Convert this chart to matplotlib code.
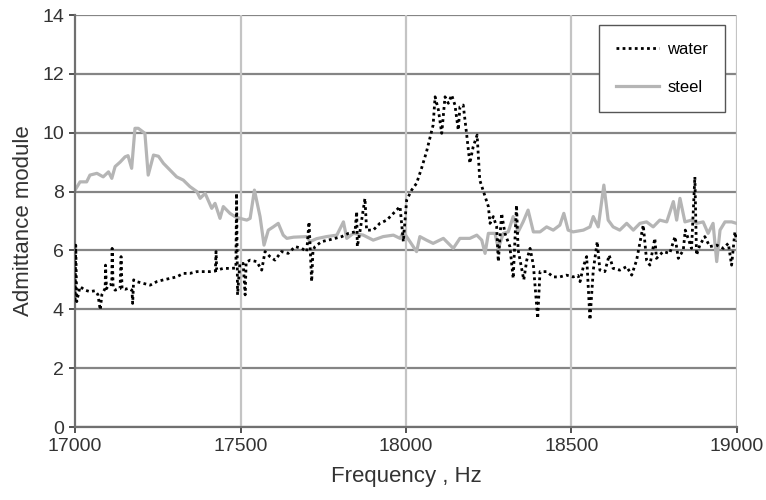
import numpy as np
import matplotlib.pyplot as plt

plt.rcParams['font.family'] = ['Liberation Sans', 'DejaVu Sans']

# water (dotted black) - frequency in Hz, admittance module
water_f = [17000, 17002, 17005, 17015, 17030, 17045, 17060, 17069, 17076, 17081,
           17091, 17092, 17095, 17101, 17111, 17112, 17115, 17121, 17136, 17139,
           17142, 17151, 17161, 17172, 17174, 17177, 17186, 17206, 17227, 17247,
           17267, 17287, 17307, 17327, 17347, 17368, 17388, 17408, 17424, 17426,
           17428, 17448, 17468, 17486, 17488, 17491, 17498, 17508, 17514, 17517,
           17529, 17549, 17564, 17574, 17589, 17604, 17624, 17644, 17665, 17685,
           17700, 17707, 17715, 17719, 17725, 17745, 17765, 17785, 17806, 17826,
           17846, 17851, 17853, 17861, 17876, 17881, 17901, 17921, 17942, 17962,
           17982, 17992, 18002, 18017, 18032, 18047, 18062, 18072, 18082, 18088,
           18098, 18108, 18118, 18128, 18138, 18148, 18158, 18163, 18173, 18183,
           18193, 18203, 18215, 18223, 18239, 18249, 18254, 18264, 18274, 18279,
           18289, 18299, 18314, 18324, 18334, 18339, 18356, 18365, 18375, 18385,
           18398, 18405, 18425, 18445, 18465, 18485, 18505, 18520, 18526, 18536,
           18546, 18556, 18566, 18578, 18586, 18601, 18614, 18626, 18646, 18667,
           18682, 18697, 18717, 18727, 18737, 18752, 18757, 18777, 18797, 18813,
           18823, 18838, 18844, 18863, 18873, 18878, 18888, 18903, 18918, 18939,
           18959, 18974, 18984, 18994, 19000]
water_y = [4.3, 6.18, 4.26, 4.77, 4.65, 4.6, 4.63, 4.5, 3.98, 4.5,
           4.71, 5.5, 4.7, 4.82, 4.85, 6.07, 4.75, 4.65, 4.7, 5.79,
           4.7, 4.68, 4.71, 4.65, 4.2, 5.0, 4.94, 4.88, 4.82, 4.94,
           5.0, 5.05, 5.1, 5.22, 5.22, 5.28, 5.28, 5.28, 5.3, 5.96,
           5.33, 5.39, 5.39, 5.4, 7.94, 4.49, 5.56, 5.56, 4.49, 5.6,
           5.67, 5.62, 5.33, 5.96, 5.79, 5.67, 5.96, 5.9, 6.13, 6.07,
           5.96, 6.97, 4.94, 6.0, 6.13, 6.3, 6.35, 6.41, 6.47, 6.58,
           6.63, 7.32, 6.13, 6.65, 7.77, 6.69, 6.69, 6.92, 7.03, 7.26,
           7.49, 6.3, 7.71, 8.05, 8.28, 8.79, 9.35, 9.81, 10.26, 11.22,
           10.77, 9.98, 11.22, 11.0, 11.28, 10.94, 10.09, 10.88, 10.94, 9.98,
           8.96, 9.52, 9.92, 8.39, 7.83, 7.49, 6.92, 7.15, 6.8, 5.62,
           7.26, 6.58, 6.13, 5.05, 7.54, 6.01, 5.0, 5.67, 6.07, 5.5,
           3.69, 5.28, 5.28, 5.1, 5.1, 5.16, 5.1, 5.15, 4.94, 5.45,
           5.79, 3.64, 5.33, 6.3, 5.33, 5.28, 5.84, 5.39, 5.33, 5.45,
           5.16, 5.67, 6.86, 5.67, 5.5, 6.41, 5.73, 5.96, 5.9, 6.47,
           5.73, 6.01, 6.69, 6.07, 8.5, 5.84, 6.18, 6.47, 6.13, 6.18,
           6.07, 6.24, 5.5, 6.63, 6.3]

# steel (solid grey)
steel_f = [17000, 17015, 17035, 17045, 17066, 17085, 17101, 17111, 17121, 17136,
           17151, 17160, 17171, 17181, 17191, 17211, 17221, 17237, 17252, 17267,
           17287, 17307, 17327, 17347, 17368, 17378, 17393, 17413, 17423, 17438,
           17448, 17468, 17483, 17498, 17519, 17529, 17542, 17559, 17571, 17584,
           17599, 17614, 17629, 17640, 17660, 17700, 17710, 17730, 17760, 17791,
           17811, 17821, 17841, 17871, 17901, 17931, 17962, 17982, 17992, 18012,
           18032, 18042, 18062, 18082, 18113, 18143, 18163, 18193, 18214, 18229,
           18239, 18249, 18269, 18279, 18294, 18309, 18324, 18339, 18354, 18369,
           18385, 18405, 18425, 18445, 18465, 18477, 18490, 18505, 18536, 18556,
           18566, 18581, 18598, 18611, 18626, 18646, 18667, 18687, 18707, 18727,
           18747, 18767, 18788, 18808, 18818, 18828, 18843, 18863, 18878, 18898,
           18913, 18928, 18939, 18949, 18964, 18984, 18999]
steel_y = [8.05, 8.33, 8.33, 8.56, 8.62, 8.5, 8.67, 8.45, 8.85, 9.0,
           9.18, 9.22, 8.79, 10.15, 10.15, 9.98, 8.56, 9.24, 9.2, 8.96,
           8.73, 8.5, 8.39, 8.17, 8.0, 7.77, 7.94, 7.43, 7.6, 7.09,
           7.49, 7.26, 7.15, 7.09, 7.03, 7.09, 8.05, 7.15, 6.18, 6.69,
           6.8, 6.92, 6.52, 6.41, 6.45, 6.47, 6.3, 6.4, 6.47, 6.52,
           6.97, 6.41, 6.58, 6.52, 6.35, 6.47, 6.52, 6.41, 6.63, 6.3,
           5.96, 6.47, 6.35, 6.24, 6.41, 6.07, 6.41, 6.41, 6.52, 6.35,
           5.9, 6.58, 6.58, 6.07, 6.58, 6.63, 7.15, 6.63, 6.97, 7.37,
           6.63, 6.63, 6.8, 6.69, 6.86, 7.26, 6.69, 6.63, 6.69, 6.8,
           7.15, 6.8, 8.22, 7.03, 6.8, 6.69, 6.92, 6.69, 6.92, 6.97,
           6.8, 7.03, 6.97, 7.66, 7.03, 7.77, 6.97, 7.03, 6.92, 6.97,
           6.58, 6.92, 5.62, 6.69, 6.97, 6.97, 6.92]

x_ticks = [17000, 17500, 18000, 18500, 19000]
y_ticks = [0, 2, 4, 6, 8, 10, 12, 14]

fig = plt.figure(figsize=(7.66, 5), dpi=100)
ax = fig.add_axes([0.098, 0.146, 0.864, 0.824])

for yv in y_ticks:
    ax.axhline(yv, color='#858585', lw=1.6, zorder=1)
for xv in x_ticks[1:]:
    ax.axvline(xv, color='#c4c4c4', lw=1.6, zorder=1)

ax.plot(steel_f, steel_y, color='#b5b5b5', lw=2.3, label='steel', zorder=2)
ax.plot(water_f, water_y, color='black', lw=2.0, ls=(0, (1, 1.2)), label='water', zorder=3)

ax.set_xlim(17000, 19000)
ax.set_ylim(0, 14)
ax.set_xticks(x_ticks)
ax.set_yticks(y_ticks)
ax.tick_params(labelsize=14, colors='#333333', length=4, width=1.2, pad=4)
for s in ['top', 'right']:
    ax.spines[s].set_visible(False)
ax.spines['left'].set_color('#707070')
ax.spines['left'].set_linewidth(1.6)
ax.spines['bottom'].set_color('#707070')
ax.spines['bottom'].set_linewidth(1.6)

ax.set_xlabel('Frequency , Hz', fontsize=16, color='#333333', labelpad=8)
ax.set_ylabel('Admittance module', fontsize=16, color='#333333', labelpad=6)

h, l = ax.get_legend_handles_labels()
leg = ax.legend(h[::-1], l[::-1], loc='upper right', bbox_to_anchor=(0.982, 0.975),
                fontsize=12, frameon=True, fancybox=False, labelspacing=1.4,
                handlelength=2.6, borderpad=1.0, handletextpad=0.5, borderaxespad=0)
leg.get_frame().set_edgecolor('#555555')
leg.get_frame().set_linewidth(1.0)
leg.get_frame().set_alpha(1)

fig.savefig('out.png', dpi=100)
